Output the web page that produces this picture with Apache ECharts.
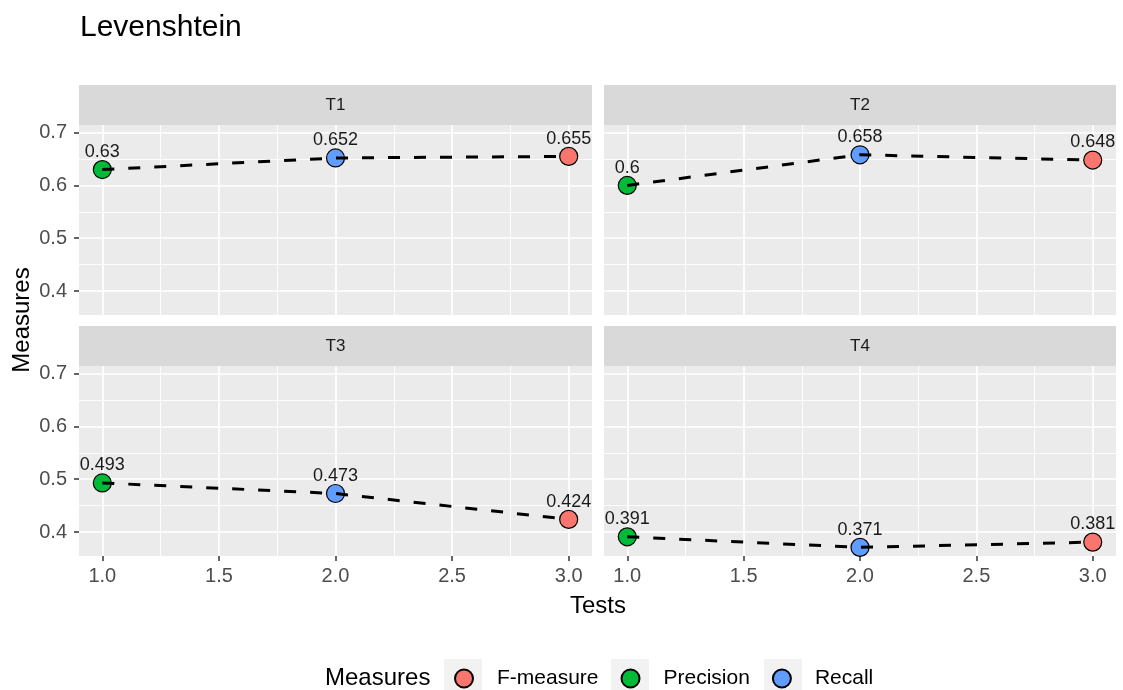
<!DOCTYPE html>
<html>
<head>
<meta charset="utf-8">
<script src="https://cdn.jsdelivr.net/npm/echarts@6/dist/echarts.min.js"></script>
<style>
  html, body { margin: 0; padding: 0; background: #ffffff; }
  #chart { width: 1123px; height: 690px; }
</style>
</head>
<body>
<div id="chart"></div>
<script>
// ---- data ----
const panelNames = ['T1', 'T2', 'T3', 'T4'];
const tests = [1, 2, 3];
const measureNames = ['F-measure', 'Precision', 'Recall'];
const measureColors = ['#F8766D', '#00BA38', '#619CFF'];
// which measure is reported at each test position
const measureAtTest = ['Precision', 'Recall', 'F-measure'];
const valuesT1 = [0.63, 0.652, 0.655];
const valuesT2 = [0.6, 0.658, 0.648];
const valuesT3 = [0.493, 0.473, 0.424];
const valuesT4 = [0.391, 0.371, 0.381];
const xTicks = [1, 1.5, 2, 2.5, 3];
const xMinorTicks = [1.25, 1.75, 2.25, 2.75];
const yTicks = [0.4, 0.5, 0.6, 0.7];
const yMinorTicks = [0.45, 0.55, 0.65];

const panelValues = [valuesT1, valuesT2, valuesT3, valuesT4];

// ---- layout ----
const FONT = '"Liberation Sans", Arial, sans-serif';
const panelBoxes = [
  { left: 79,  top: 125, width: 513, height: 190, showX: false, showY: true },
  { left: 604, top: 125, width: 512, height: 190, showX: false, showY: false },
  { left: 79,  top: 366, width: 513, height: 190, showX: true,  showY: true },
  { left: 604, top: 366, width: 512, height: 190, showX: true,  showY: false }
];
const stripHeight = 40;
const X_MIN = 0.9, X_MAX = 3.1;
const Y_MIN = 0.3547, Y_MAX = 0.7144;

const grids = [], xAxes = [], yAxes = [], series = [], graphics = [];

panelBoxes.forEach((b, i) => {
  grids.push({
    left: b.left, top: b.top, width: b.width, height: b.height,
    show: true, backgroundColor: '#EBEBEB', borderWidth: 0
  });

  // major x axis
  xAxes.push({
    type: 'value', gridIndex: i, min: X_MIN, max: X_MAX, position: 'bottom',
    axisLine: { show: false },
    axisTick: { show: b.showX, length: 5, customValues: xTicks,
                lineStyle: { color: '#333333', width: 1.5 } },
    axisLabel: { show: b.showX, customValues: xTicks, margin: 10,
                 formatter: v => v.toFixed(1),
                 color: '#4D4D4D', fontSize: 20, fontFamily: FONT },
    splitLine: { show: true, lineStyle: { color: '#FFFFFF', width: 1.7 } }
  });
  // minor x grid
  xAxes.push({
    type: 'value', gridIndex: i, min: X_MIN, max: X_MAX, position: 'top',
    axisLine: { show: false },
    axisTick: { show: false, customValues: xMinorTicks },
    axisLabel: { show: false, customValues: xMinorTicks },
    splitLine: { show: true, lineStyle: { color: '#FFFFFF', width: 0.9 } }
  });

  // major y axis
  yAxes.push({
    type: 'value', gridIndex: i, min: Y_MIN, max: Y_MAX, position: 'left',
    axisLine: { show: false },
    axisTick: { show: b.showY, length: 5, customValues: yTicks,
                lineStyle: { color: '#333333', width: 1.5 } },
    axisLabel: { show: b.showY, customValues: yTicks, margin: 12,
                 formatter: v => v.toFixed(1),
                 color: '#4D4D4D', fontSize: 20, fontFamily: FONT },
    splitLine: { show: true, lineStyle: { color: '#FFFFFF', width: 1.7 } }
  });
  // minor y grid
  yAxes.push({
    type: 'value', gridIndex: i, min: Y_MIN, max: Y_MAX, position: 'right',
    axisLine: { show: false },
    axisTick: { show: false, customValues: yMinorTicks },
    axisLabel: { show: false, customValues: yMinorTicks },
    splitLine: { show: true, lineStyle: { color: '#FFFFFF', width: 0.9 } }
  });

  const vals = panelValues[i];

  // dashed connecting line, drawn over the points
  series.push({
    type: 'line', xAxisIndex: 2 * i, yAxisIndex: 2 * i,
    data: tests.map((t, k) => [t, vals[k]]),
    symbol: 'none', silent: true, z: 5,
    lineStyle: { color: '#000000', width: 3, type: [12, 14] }
  });

  // one point series per measure
  measureNames.forEach((m, mi) => {
    const data = [];
    tests.forEach((t, k) => { if (measureAtTest[k] === m) data.push([t, vals[k]]); });
    series.push({
      type: 'scatter', name: m, xAxisIndex: 2 * i, yAxisIndex: 2 * i,
      data: data, symbol: 'circle', symbolSize: 18, z: 3,
      itemStyle: { color: measureColors[mi], borderColor: '#000000', borderWidth: 1.2, opacity: 1 },
      label: {
        show: true, position: 'top', distance: -1,
        formatter: p => String(p.value[1]),
        color: '#1A1A1A', fontSize: 18, fontFamily: FONT
      },
      emphasis: { disabled: true }
    });
  });

  // facet strip
  graphics.push({
    type: 'rect', z: 1,
    shape: { x: b.left, y: b.top - stripHeight, width: b.width, height: stripHeight },
    style: { fill: '#D9D9D9' }
  });
  graphics.push({
    type: 'text', z: 2,
    style: {
      text: panelNames[i], x: b.left + b.width / 2, y: b.top - stripHeight / 2,
      align: 'center', verticalAlign: 'middle',
      font: '17px ' + FONT, fill: '#1A1A1A'
    }
  });
});

// axis titles
graphics.push({
  type: 'text',
  style: { text: 'Tests', x: 598, y: 606, align: 'center', verticalAlign: 'middle',
           font: '24px ' + FONT, fill: '#000000' }
});
graphics.push({
  type: 'text', x: 22, y: 320, rotation: Math.PI / 2,
  style: { text: 'Measures', x: 0, y: 0, align: 'center', verticalAlign: 'middle',
           font: '24px ' + FONT, fill: '#000000' }
});

// legend title and key backgrounds
graphics.push({
  type: 'text',
  style: { text: 'Measures', x: 325, y: 678, align: 'left', verticalAlign: 'middle',
           font: '24px ' + FONT, fill: '#000000' }
});
[444, 611, 764].forEach(x => {
  graphics.push({
    type: 'rect', z: 0,
    shape: { x: x, y: 659, width: 38, height: 38 },
    style: { fill: '#F2F2F2' }
  });
});

const option = {
  animation: false,
  backgroundColor: '#FFFFFF',
  title: {
    text: 'Levenshtein', left: 75, top: 8,
    textStyle: { fontSize: 30, fontWeight: 'normal', color: '#000000', fontFamily: FONT }
  },
  legend: {
    data: measureNames, left: 449, top: 663, orient: 'horizontal',
    icon: 'circle', itemWidth: 18, itemHeight: 18, itemGap: 22,
    selectedMode: false,
    textStyle: { fontSize: 21, color: '#000000', fontFamily: FONT, padding: [0, 0, 0, 19] }
  },
  grid: grids,
  xAxis: xAxes,
  yAxis: yAxes,
  series: series,
  graphic: graphics
};

const chart = echarts.init(document.getElementById('chart'), null, { renderer: 'canvas' });
chart.setOption(option);
</script>
</body>
</html>
